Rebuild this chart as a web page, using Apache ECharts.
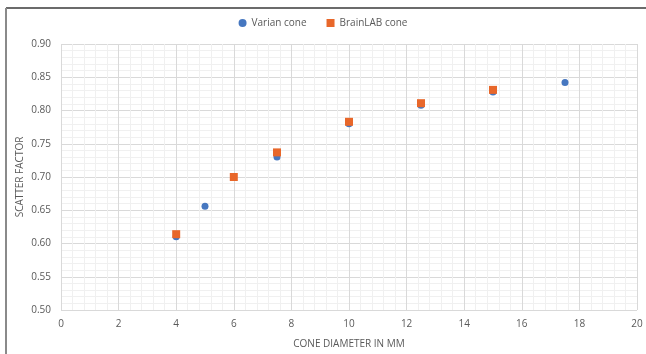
<!DOCTYPE html>
<html>
<head>
<meta charset="utf-8">
<style>
  html, body { margin: 0; padding: 0; background: #fff; }
  #chart { width: 646px; height: 354px; }
</style>
<script src="https://cdn.jsdelivr.net/npm/echarts@6/dist/echarts.min.js"></script>
</head>
<body>
<div id="chart"></div>
<script>
// Cone diameter (mm) and measured scatter factor for each cone system
const varianDiameter = [4, 5, 7.5, 10, 12.5, 15, 17.5];
const varianFactor   = [0.610, 0.656, 0.730, 0.780, 0.808, 0.828, 0.842];
const brainlabDiameter = [4, 6, 7.5, 10, 12.5, 15];
const brainlabFactor   = [0.614, 0.700, 0.737, 0.783, 0.811, 0.831];

const seriesNames = ['Varian cone', 'BrainLAB cone'];
const xTitle = 'CONE DIAMETER IN MM';
const yTitle = 'SCATTER FACTOR';

const pairs = (xs, ys) => xs.map((x, i) => [x, ys[i]]);

const labelColor = '#595959';
const font = 'Open Sans';

const chart = echarts.init(document.getElementById('chart'), null, { renderer: 'canvas' });
chart.setOption({
  animation: false,
  backgroundColor: '#fff',
  textStyle: { fontFamily: font },
  graphic: [
    { type: 'line', shape: { x1: 6, y1: 8, x2: 646, y2: 8 }, style: { stroke: '#3a3a3a', lineWidth: 1.5 } },
    { type: 'line', shape: { x1: 6, y1: 8, x2: 6, y2: 354 }, style: { stroke: '#8a8a8a', lineWidth: 2 } }
  ],
  legend: {
    top: 13,
    left: 'center',
    itemWidth: 8,
    itemHeight: 8,
    itemGap: 20,
    textStyle: { color: labelColor, fontSize: 10, fontFamily: font },
    data: [
      { name: seriesNames[0], icon: 'circle' },
      { name: seriesNames[1], icon: 'rect' }
    ]
  },
  grid: { left: 61, right: 9, top: 44, bottom: 43 },
  xAxis: {
    type: 'value',
    min: 0, max: 20, interval: 2,
    name: xTitle,
    nameLocation: 'middle',
    nameGap: 29,
    nameMoveOverlap: false,
    nameTextStyle: { color: labelColor, fontSize: 10 },
    axisLine: { show: false },
    axisTick: { show: false },
    axisLabel: { color: labelColor, fontSize: 10, margin: 9 },
    splitLine: { show: true, lineStyle: { color: '#d9d9d9', width: 1 } },
    minorTick: { show: false, splitNumber: 5 },
    minorSplitLine: { show: true, lineStyle: { color: '#f0f0f0', width: 1 } }
  },
  yAxis: {
    type: 'value',
    min: 0.5, max: 0.9, interval: 0.05,
    name: yTitle,
    nameLocation: 'middle',
    nameGap: 36,
    nameMoveOverlap: false,
    nameRotate: 90,
    nameTextStyle: { color: labelColor, fontSize: 10 },
    axisLine: { show: false },
    axisTick: { show: false },
    axisLabel: { color: labelColor, fontSize: 10, margin: 10, formatter: v => v.toFixed(2) },
    splitLine: { show: true, lineStyle: { color: '#d9d9d9', width: 1 } },
    minorTick: { show: false, splitNumber: 5 },
    minorSplitLine: { show: true, lineStyle: { color: '#f0f0f0', width: 1 } }
  },
  series: [
    {
      name: seriesNames[0],
      type: 'scatter',
      symbol: 'circle',
      symbolSize: 7,
      itemStyle: { color: '#4677C0', opacity: 1 },
      data: pairs(varianDiameter, varianFactor),
      z: 2
    },
    {
      name: seriesNames[1],
      type: 'scatter',
      symbol: 'rect',
      symbolSize: 8,
      itemStyle: { color: '#E8672A', opacity: 1 },
      data: pairs(brainlabDiameter, brainlabFactor),
      z: 3
    }
  ]
});
</script>
</body>
</html>
